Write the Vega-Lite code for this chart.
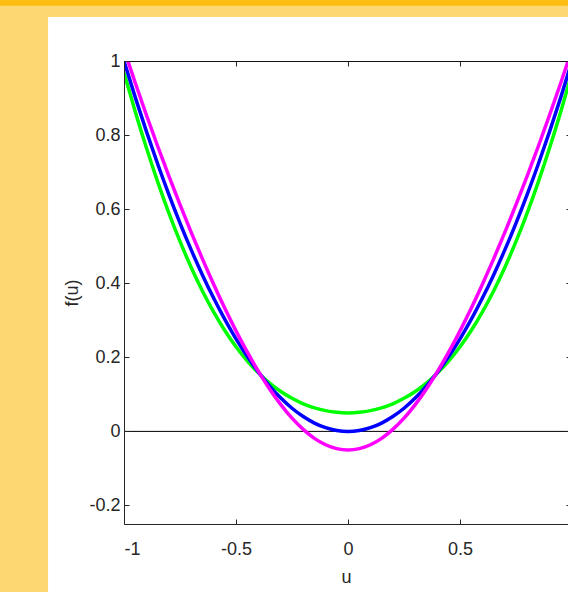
{
  "$schema": "https://vega.github.io/schema/vega-lite/v6.json",
  "width": 444,
  "height": 463,
  "autosize": {"type": "none"},
  "padding": {"left": 124, "top": 61, "right": 0, "bottom": 68},
  "background": "#FDD872",
  "config": {
    "view": {"stroke": null},
    "axis": {
      "domainColor": "#262626",
      "tickColor": "#262626",
      "labelColor": "#262626",
      "titleColor": "#262626",
      "labelFont": "Liberation Sans",
      "titleFont": "Liberation Sans",
      "labelFontSize": 18,
      "titleFontSize": 18,
      "titleFontWeight": "normal",
      "grid": false,
      "tickSize": -5
    }
  },
  "datasets": {
    "curves": [
      {"u": -1.0, "green": 0.9684, "blue": 1.0, "magenta": 1.0316},
      {"u": -0.95, "green": 0.8637, "blue": 0.9025, "magenta": 0.9413},
      {"u": -0.9, "green": 0.7657, "blue": 0.81, "magenta": 0.8543},
      {"u": -0.85, "green": 0.6745, "blue": 0.7225, "magenta": 0.7705},
      {"u": -0.8, "green": 0.5902, "blue": 0.64, "magenta": 0.6898},
      {"u": -0.75, "green": 0.5129, "blue": 0.5625, "magenta": 0.6121},
      {"u": -0.7, "green": 0.4426, "blue": 0.49, "magenta": 0.5374},
      {"u": -0.65, "green": 0.3792, "blue": 0.4225, "magenta": 0.4658},
      {"u": -0.6, "green": 0.3226, "blue": 0.36, "magenta": 0.3975},
      {"u": -0.55, "green": 0.2724, "blue": 0.3025, "magenta": 0.3326},
      {"u": -0.5, "green": 0.2285, "blue": 0.25, "magenta": 0.2715},
      {"u": -0.45, "green": 0.1905, "blue": 0.2025, "magenta": 0.2145},
      {"u": -0.4, "green": 0.158, "blue": 0.16, "magenta": 0.162},
      {"u": -0.35, "green": 0.1305, "blue": 0.1225, "magenta": 0.1145},
      {"u": -0.3, "green": 0.1077, "blue": 0.09, "magenta": 0.0723},
      {"u": -0.25, "green": 0.0893, "blue": 0.0625, "magenta": 0.0357},
      {"u": -0.2, "green": 0.0746, "blue": 0.04, "magenta": 0.0054},
      {"u": -0.15, "green": 0.0637, "blue": 0.0225, "magenta": -0.0187},
      {"u": -0.1, "green": 0.056, "blue": 0.01, "magenta": -0.036},
      {"u": -0.05, "green": 0.0515, "blue": 0.0025, "magenta": -0.0465},
      {"u": 0.0, "green": 0.05, "blue": 0.0, "magenta": -0.05},
      {"u": 0.05, "green": 0.0515, "blue": 0.0025, "magenta": -0.0465},
      {"u": 0.1, "green": 0.056, "blue": 0.01, "magenta": -0.036},
      {"u": 0.15, "green": 0.0637, "blue": 0.0225, "magenta": -0.0187},
      {"u": 0.2, "green": 0.0746, "blue": 0.04, "magenta": 0.0054},
      {"u": 0.25, "green": 0.0893, "blue": 0.0625, "magenta": 0.0357},
      {"u": 0.3, "green": 0.1077, "blue": 0.09, "magenta": 0.0723},
      {"u": 0.35, "green": 0.1305, "blue": 0.1225, "magenta": 0.1145},
      {"u": 0.4, "green": 0.158, "blue": 0.16, "magenta": 0.162},
      {"u": 0.45, "green": 0.1905, "blue": 0.2025, "magenta": 0.2145},
      {"u": 0.5, "green": 0.2285, "blue": 0.25, "magenta": 0.2715},
      {"u": 0.55, "green": 0.2724, "blue": 0.3025, "magenta": 0.3326},
      {"u": 0.6, "green": 0.3226, "blue": 0.36, "magenta": 0.3975},
      {"u": 0.65, "green": 0.3792, "blue": 0.4225, "magenta": 0.4658},
      {"u": 0.7, "green": 0.4426, "blue": 0.49, "magenta": 0.5374},
      {"u": 0.75, "green": 0.5129, "blue": 0.5625, "magenta": 0.6121},
      {"u": 0.8, "green": 0.5902, "blue": 0.64, "magenta": 0.6898},
      {"u": 0.85, "green": 0.6745, "blue": 0.7225, "magenta": 0.7705},
      {"u": 0.9, "green": 0.7657, "blue": 0.81, "magenta": 0.8543},
      {"u": 0.95, "green": 0.8637, "blue": 0.9025, "magenta": 0.9413},
      {"u": 1.0, "green": 0.9684, "blue": 1.0, "magenta": 1.0316}
    ]
  },
  "resolve": {"axis": {"x": "independent", "y": "independent"}},
  "layer": [
    {
      "data": {"values": [{}]},
      "mark": {"type": "rect", "color": "#FDBD10", "clip": false},
      "encoding": {
        "x": {"datum": -1.6, "type": "quantitative", "scale": {"domain": [-1, 0.982], "nice": false, "zero": false}, "axis": null},
        "x2": {"datum": 0.982},
        "y": {"datum": 1.2, "type": "quantitative", "scale": {"domain": [-0.25, 1], "nice": false, "zero": false}, "axis": null},
        "y2": {"datum": 1.149}
      }
    },
    {
      "data": {"values": [{}]},
      "mark": {"type": "rect", "color": "white", "clip": false},
      "encoding": {
        "x": {"datum": -1.339, "type": "quantitative", "axis": null},
        "x2": {"datum": 0.982},
        "y": {"datum": 1.1186, "type": "quantitative", "axis": null},
        "y2": {"datum": -0.44}
      }
    },
    {
      "data": {"values": [{}]},
      "mark": {"type": "rule", "color": "black", "strokeWidth": 1},
      "encoding": {
        "y": {"datum": 0, "type": "quantitative", "axis": {"orient": "right", "labels": false, "title": null, "zindex": 1, "tickSize": -2, "values": [-0.2, 0, 0.2, 0.4, 0.6, 0.8, 1]}},
        "x": {"datum": -1, "type": "quantitative", "axis": {"orient": "top", "labels": false, "title": null, "zindex": 1, "domainColor": "#111111", "values": [-1, -0.5, 0, 0.5]}},
        "x2": {"datum": 0.982}
      }
    },
    {
      "data": {"name": "curves"},
      "transform": [{"fold": ["green", "blue", "magenta"], "as": ["series", "f"]}],
      "mark": {"type": "line", "strokeWidth": 3.5, "clip": true, "interpolate": "monotone"},
      "encoding": {
        "x": {"field": "u", "type": "quantitative", "axis": {"orient": "bottom", "title": "u", "zindex": 1, "values": [-1, -0.5, 0, 0.5], "labelExpr": "toString(datum.value)", "labelPadding": 21, "titlePadding": 10}},
        "y": {"field": "f", "type": "quantitative", "axis": {"orient": "left", "title": "f(u)", "zindex": 1, "values": [-0.2, 0, 0.2, 0.4, 0.6, 0.8, 1], "labelExpr": "toString(datum.value)", "labelPadding": 9, "titlePadding": 7}},
        "color": {"field": "series", "type": "nominal", "scale": {"domain": ["green", "blue", "magenta"], "range": ["#00FF00", "#0000FF", "#FF00FF"]}, "legend": null},
        "order": {"field": "u", "type": "quantitative"}
      }
    }
  ]
}
